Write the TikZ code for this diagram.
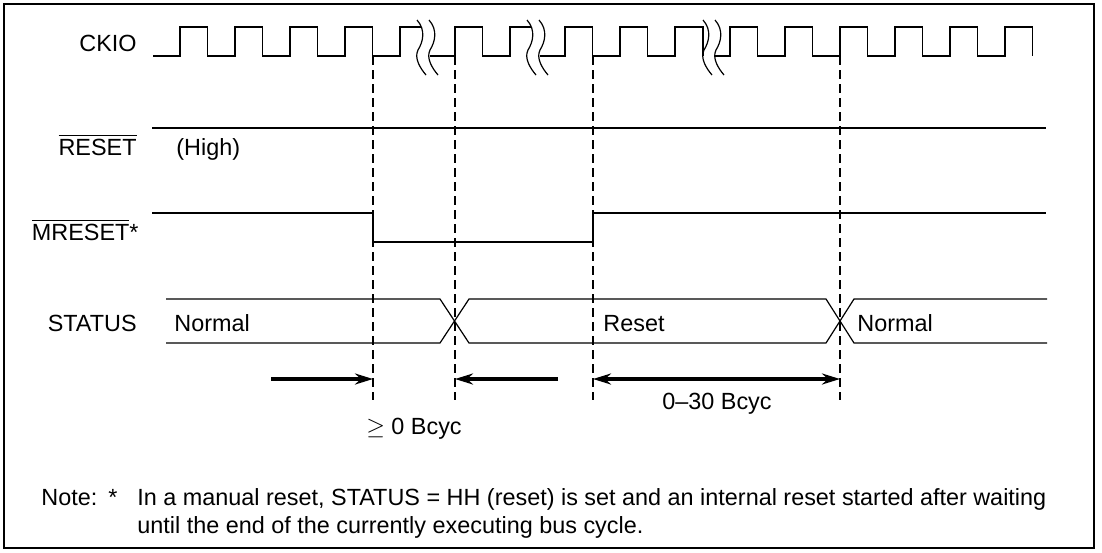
\documentclass[tikz,border=0pt]{standalone}
\usepackage{fontspec}
\setmainfont{Liberation Sans}
\usetikzlibrary{arrows.meta}

\newcommand{\ckhi}{27}
\newcommand{\cklo}{56}
\newcommand{\brkcurve}[1]{%
  \draw[brk] (#1,20) .. controls (#1+9,30) and (#1+6,42) .. (#1+1,50)
                     .. controls (#1-3,58) and (#1+3,68) .. (#1+9,75);}

\begin{document}
\begin{tikzpicture}[
    x=0.5pt, y=-0.5pt,
    font=\fontsize{11.7}{14}\selectfont,
    >={Stealth[length=9pt,width=5.5pt]},
    sig/.style={line width=0.6pt},
    brk/.style={line width=0.6pt},
    guide/.style={line width=0.6pt, dash pattern=on 4.5pt off 2.5pt},
    span/.style={line width=1.6pt},
    lbl/.style={inner sep=0pt, anchor=base east},
    txt/.style={inner sep=0pt, anchor=base west},
  ]
  \useasboundingbox (0,0) rectangle (1102,552);
  \draw[line width=1pt] (4,4) rectangle (1094,548);

  %% ---- signal names ----------------------------------------------------
  \node[lbl] (ckio)   at (137,51)  {CKIO};
  \node[lbl] (reset)  at (137,155) {$\overline{\mbox{RESET}}$};
  \node[lbl] (mreset) at (139,240) {$\overline{\mbox{MRESET}}$*};
  \node[lbl] (status) at (137,331) {STATUS};

  %% ---- CKIO, broken three times -----------------------------------------
  \draw[sig] (153,\cklo)
    foreach \r in {180,235,290,345} {
      -- (\r,\cklo) -- (\r,\ckhi) -- (\r+27.5,\ckhi) -- (\r+27.5,\cklo) }
    -- (400,\cklo) -- (400,\ckhi) -- (421,\ckhi);
  \draw[sig] (430,\cklo) -- (455,\cklo) -- (455,\ckhi) -- (482.5,\ckhi)
    -- (482.5,\cklo) -- (510,\cklo) -- (510,\ckhi) -- (531,\ckhi);
  \draw[sig] (540,\cklo)
    foreach \r in {565,620} {
      -- (\r,\cklo) -- (\r,\ckhi) -- (\r+27.5,\ckhi) -- (\r+27.5,\cklo) }
    -- (675,\cklo) -- (675,\ckhi) -- (703,\ckhi) -- (703,\cklo);
  \draw[sig] (715,\cklo)
    foreach \r in {730,785,840,895,950,1005} {
      -- (\r,\cklo) -- (\r,\ckhi) -- (\r+27.5,\ckhi) -- (\r+27.5,\cklo) };
  \foreach \b in {417,429,527,539,703,715} {\brkcurve{\b}}

  %% ---- timing guides ----------------------------------------------------
  \foreach \g/\x in {1/373,2/455,3/593,4/840} {
    \coordinate (t\g) at (\x,\cklo);
    \coordinate (b\g) at (\x,400);
    \draw[guide] (t\g) -- (b\g);
  }

  %% ---- RESET, MRESET ----------------------------------------------------
  \draw[sig] (152,128) -- (1046,128);
  \node[txt] (high) at (176,155) {(High)};
  \draw[sig] (152,213) -- (373,213) -- (373,242) -- (593,242) -- (593,213)
    -- (1046,213);

  %% ---- STATUS bus -------------------------------------------------------
  \draw[sig] (166,299) -- (440,299) -- (469,343) -- (826,343) -- (854,299)
    -- (1047,299);
  \draw[sig] (166,343) -- (440,343) -- (469,299) -- (826,299) -- (854,343)
    -- (1047,343);
  \node[txt] (normal1) at (174,331) {Normal};
  \node[txt] (rst)     at (603,331) {Reset};
  \node[txt] (normal2) at (857,331) {Normal};

  %% ---- intervals --------------------------------------------------------
  \coordinate (a1) at (271,379);
  \coordinate (a1e) at (373,379);
  \coordinate (a2) at (558,379);
  \coordinate (a2e) at (455,379);
  \coordinate (a3) at (593,379);
  \coordinate (a3e) at (840,379);
  \draw[span,->] (a1) -- (a1e);
  \draw[span,->] (a2) -- (a2e);
  \draw[span,<->] (a3) -- (a3e);
  \node[inner sep=0pt, anchor=base] (wait) at (414,434) {$\geq$ 0 Bcyc};
  \node[inner sep=0pt, anchor=base] (cnt)  at (717,409) {0--30 Bcyc};

  %% ---- note -------------------------------------------------------------
  \node[txt] (note)  at (41,505)  {Note:};
  \node[txt] (star)  at (108,505) {*};
  \node[txt] (note1) at (137,505)
    {In a manual reset, STATUS = HH (reset) is set and an internal reset started after waiting};
  \node[txt] (note2) at (137,533)
    {until the end of the currently executing bus cycle.};
\end{tikzpicture}
\end{document}
